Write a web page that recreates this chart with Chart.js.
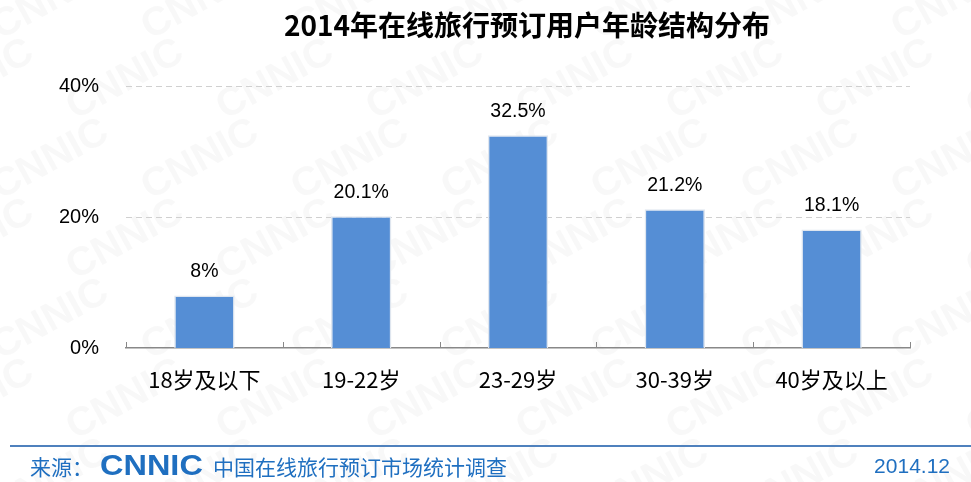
<!DOCTYPE html>
<html>
<head>
<meta charset="utf-8">
<script src="https://cdn.jsdelivr.net/npm/chart.js@4"></script>
<style>
  html, body { margin: 0; padding: 0; background: #fff; }
  #wrap { width: 971px; height: 482px; position: relative; }
</style>
</head>
<body>
<div id="wrap"><canvas id="myChart"></canvas></div>
<script>
const ageGroups = ['18岁及以下', '19-22岁', '23-29岁', '30-39岁', '40岁及以上'];
const shares = [8, 20.1, 32.5, 21.2, 18.1];
const yTicks = [0, 20, 40];

const titleText = '2014年在线旅行预订用户年龄结构分布';
const sourceLabel = '来源：';
const sourceName = '中国在线旅行预订市场统计调查';
const dateText = '2014.12';

const FONT = '"Liberation Sans", Arial, "Noto Sans CJK SC", sans-serif';
const CJK = '"Noto Sans CJK SC", "Liberation Sans", sans-serif';
const BLUE = '#1f6fc0';

// faint logo watermark, dashed grid, title and footer
const decor = {
  id: 'decor',
  beforeDraw(chart) {
    const c = chart.ctx;
    c.save();
    c.fillStyle = 'rgba(120,120,120,0.05)';
    c.font = 'bold 40px ' + FONT;
    for (let row = -1; row < 7; row++) {
      for (let col = -1; col < 9; col++) {
        c.save();
        c.translate(col * 150 + (row % 2) * 75, row * 80 + 40);
        c.rotate(-0.5);
        c.fillText('CNNIC', 0, 0);
        c.restore();
      }
    }
    c.restore();
  },
  beforeDatasetsDraw(chart) {
    const c = chart.ctx;
    const x = chart.scales.x, y = chart.scales.y;
    c.save();
    c.strokeStyle = '#d0d0d0';
    c.lineWidth = 1;
    c.setLineDash([6, 4]);
    yTicks.slice(1).forEach(v => {
      const py = Math.round(y.getPixelForValue(v)) + 0.5;
      c.beginPath();
      c.moveTo(x.left, py);
      c.lineTo(x.right, py);
      c.stroke();
    });
    c.restore();
  },
  afterDraw(chart) {
    const c = chart.ctx;
    c.save();
    c.fillStyle = '#000';
    c.font = 'bold 28px ' + CJK;
    c.textAlign = 'center';
    c.textBaseline = 'middle';
    c.fillText(titleText, 527, 25);

    // footer rule
    c.strokeStyle = '#4f81bd';
    c.lineWidth = 2;
    c.beginPath();
    c.moveTo(10, 446);
    c.lineTo(971, 446);
    c.stroke();

    c.fillStyle = BLUE;
    c.textAlign = 'left';
    c.font = '21px ' + CJK;
    c.fillText(sourceLabel, 30, 467);
    c.font = '900 29px ' + FONT;
    c.save();
    c.scale(1.12, 1);
    c.fillText('CNNIC', 100 / 1.12, 467);
    c.restore();
    c.font = '21px ' + CJK;
    c.fillText(sourceName, 213, 467);
    c.font = '21px ' + FONT;
    c.textAlign = 'right';
    c.fillText(dateText, 950, 467);

    // small upward ticks on the category axis
    const x = chart.scales.x;
    const yb = chart.scales.y.bottom;
    c.strokeStyle = '#888';
    c.lineWidth = 1;
    const step = (x.right - x.left) / ageGroups.length;
    for (let i = 0; i <= ageGroups.length; i++) {
      const px = Math.round(x.left + i * step) + 0.5;
      c.beginPath();
      c.moveTo(px, yb);
      c.lineTo(px, yb - 6);
      c.stroke();
    }

    // value labels above bars
    const meta = chart.getDatasetMeta(0);
    c.fillStyle = '#000';
    c.font = '19.5px ' + FONT;
    c.textAlign = 'center';
    meta.data.forEach((bar, i) => {
      c.fillText(shares[i] + '%', bar.x, bar.y - 24);
    });
    c.restore();
  }
};

new Chart(document.getElementById('myChart'), {
  type: 'bar',
  data: {
    labels: ageGroups,
    datasets: [{
      data: shares,
      backgroundColor: '#558ed5',
      borderColor: '#dfe6ef',
      borderWidth: 1.5,
      borderSkipped: 'bottom',
      categoryPercentage: 1,
      barPercentage: 0.385
    }]
  },
  options: {
    responsive: true,
    maintainAspectRatio: false,
    animation: false,
    layout: { padding: { top: 86, right: 61, left: 0, bottom: 0 } },
    plugins: {
      legend: { display: false },
      tooltip: { enabled: false }
    },
    scales: {
      x: {
        grid: { display: false },
        border: { display: true, color: '#888', width: 1.5 },
        ticks: { color: '#000', font: { size: 22, family: CJK }, padding: 10 },
        afterFit(scale) { scale.height = 134; }
      },
      y: {
        min: 0,
        max: 40,
        afterBuildTicks(scale) { scale.ticks = yTicks.map(v => ({ value: v })); },
        grid: { display: false },
        border: { display: false },
        ticks: {
          color: '#000',
          font: { size: 20, family: FONT },
          padding: 19,
          callback: v => v + '%'
        },
        afterFit(scale) { scale.width = 126; }
      }
    }
  },
  plugins: [decor]
});
</script>
</body>
</html>
